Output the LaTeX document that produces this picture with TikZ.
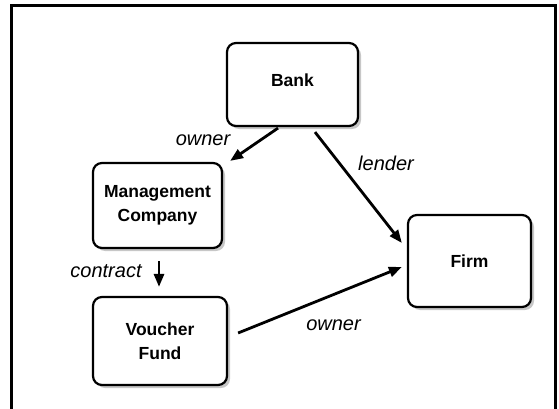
\documentclass[tikz,border=0pt]{standalone}
\usepackage{fontspec}
\setmainfont{Liberation Sans}
\usetikzlibrary{arrows.meta,calc,shadows}
\begin{document}
\begin{tikzpicture}[x=1pt,y=-1pt,
  box/.style={draw, line width=2.2pt, rounded corners=9pt, fill=white, align=center,
    font=\fontsize{17.5}{24}\selectfont\bfseries, inner sep=0pt,
    drop shadow={shadow xshift=3pt, shadow yshift=-3pt, fill=black!22, opacity=1}},
  lbl/.style={font=\fontsize{20}{24}\selectfont\itshape, anchor=base, inner sep=0pt},
  conn/.style={line width=2.8pt, -{Triangle[length=13pt,width=10pt]}}]
\useasboundingbox (0,0) rectangle (559,409);
\draw[line width=3pt] (11.5,409) |- (555,5.5) -- (555,409);

\node[box, minimum width=131pt, minimum height=83pt] (bank) at (292.5,84.5) {\raisebox{4pt}[\height][\depth]{Bank}};
\node[box, minimum width=129pt, minimum height=85pt] (mgmt) at (157.5,205.5) {Management\\Company};
\node[box, minimum width=123pt, minimum height=92pt] (firm) at (469.5,261) {Firm};
\node[box, minimum width=134pt, minimum height=88pt] (fund) at (160,341) {Voucher\\Fund};

\draw[conn] ($(bank.south)+(-14.5,1)$) -- ($(mgmt.north east)+(7,-1)$);
\draw[conn] ($(bank.south)+(22.5,5)$) -- ($(firm.west)+(-5,-18)$);
\draw[conn] ($(mgmt.south)+(1.5,12)$) -- ($(fund.north)+(-1,-9)$);
\draw[conn] ($(fund.east)+(10,-8)$) -- ($(firm.west)+(-5,6)$);

\node[lbl] (l1) at (203,146) {owner};
\node[lbl] (l2) at (386,170) {lender};
\node[lbl] (l3) at (106,277.5) {contract};
\node[lbl] (l4) at (333.5,330) {owner};
\end{tikzpicture}
\end{document}
